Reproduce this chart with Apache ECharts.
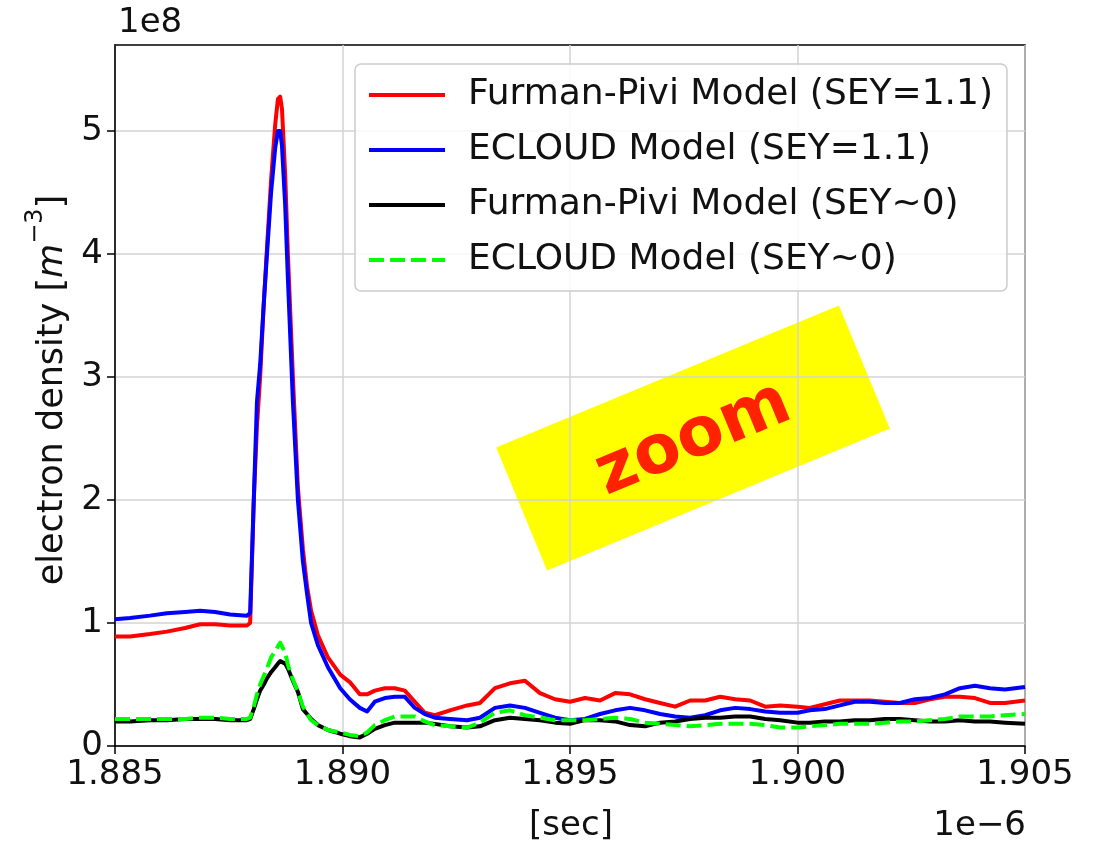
<!DOCTYPE html>
<html>
<head>
<meta charset="utf-8">
<script src="https://cdn.jsdelivr.net/npm/echarts@6/dist/echarts.min.js"></script>
<style>
html,body{margin:0;padding:0;background:#fff;}
#chart{width:1093px;height:845px;}
</style>
</head>
<body>
<div id="chart"></div>
<script>
// time in ns (axis shows value/1000 in units of 1e-6 s)
const timeNs = [
 1885.00,1885.33,1885.77,1886.14,1886.54,1886.87,1887.20,1887.53,1887.90,
 1887.97,1888.05,1888.12,1888.19,1888.27,1888.34,1888.43,1888.52,1888.58,1888.63,
 1888.67,1888.74,1888.80,1888.91,1889.02,1889.13,1889.22,1889.31,1889.46,1889.68,
 1889.95,1890.16,1890.38,1890.54,1890.71,1890.93,1891.15,1891.37,1891.59,1891.81,
 1892.03,1892.36,1892.74,1893.02,1893.35,1893.68,1894.01,1894.34,1894.67,1895.00,
 1895.33,1895.66,1895.99,1896.32,1896.65,1896.98,1897.31,1897.64,1897.97,1898.30,
 1898.63,1898.96,1899.29,1899.62,1900.00,1900.27,1900.60,1900.93,1901.26,1901.59,
 1901.92,1902.25,1902.58,1902.91,1903.24,1903.57,1903.90,1904.23,1904.56,1905.00
];
// electron density, units of 1e8 m^-3
const furmanPivi11 = [
 0.89,0.89,0.91,0.93,0.96,0.99,0.99,0.98,0.98,
 1.00,2.0,2.6,3.0,3.6,4.05,4.6,5.05,5.26,5.28,
 5.18,4.65,4.0,3.0,2.1,1.6,1.3,1.1,0.9,0.72,
 0.58,0.52,0.42,0.42,0.45,0.47,0.47,0.45,0.36,0.27,
 0.25,0.29,0.33,0.35,0.47,0.51,0.53,0.43,0.38,0.36,
 0.39,0.37,0.43,0.42,0.38,0.35,0.32,0.37,0.37,0.40,
 0.38,0.37,0.32,0.33,0.32,0.31,0.34,0.37,0.37,0.37,
 0.36,0.35,0.35,0.38,0.40,0.40,0.39,0.35,0.35,0.37
];
const ecloud11 = [
 1.03,1.04,1.06,1.08,1.09,1.10,1.09,1.07,1.06,
 1.08,2.0,2.8,3.1,3.6,4.0,4.5,4.86,5.0,5.0,
 4.88,4.4,3.8,2.8,2.0,1.5,1.24,1.0,0.82,0.64,
 0.47,0.38,0.31,0.28,0.36,0.39,0.40,0.40,0.31,0.26,
 0.23,0.22,0.21,0.23,0.31,0.33,0.31,0.27,0.23,0.21,
 0.22,0.26,0.29,0.31,0.29,0.26,0.24,0.23,0.25,0.29,
 0.31,0.30,0.28,0.27,0.27,0.29,0.30,0.33,0.36,0.36,
 0.35,0.35,0.38,0.39,0.42,0.47,0.49,0.47,0.46,0.48
];
const furmanPivi0 = [
 0.20,0.20,0.21,0.21,0.22,0.22,0.22,0.21,0.21,
 0.22,0.30,0.38,0.45,0.50,0.55,0.60,0.64,0.67,0.69,
 0.70,0.67,0.63,0.53,0.44,0.30,0.26,0.22,0.17,0.13,
 0.10,0.08,0.07,0.10,0.14,0.17,0.19,0.19,0.19,0.19,
 0.18,0.16,0.15,0.16,0.21,0.23,0.22,0.21,0.19,0.18,
 0.21,0.21,0.20,0.17,0.16,0.19,0.20,0.22,0.23,0.23,
 0.24,0.24,0.22,0.21,0.19,0.19,0.20,0.20,0.21,0.21,
 0.22,0.22,0.21,0.20,0.20,0.21,0.20,0.20,0.19,0.18
];
const ecloud0 = [
 0.22,0.22,0.22,0.22,0.22,0.23,0.23,0.22,0.22,
 0.23,0.32,0.42,0.50,0.57,0.63,0.72,0.77,0.81,0.84,
 0.83,0.76,0.66,0.54,0.44,0.32,0.26,0.21,0.17,0.13,
 0.11,0.09,0.08,0.11,0.17,0.21,0.24,0.24,0.24,0.20,
 0.17,0.16,0.15,0.19,0.27,0.29,0.25,0.23,0.21,0.21,
 0.21,0.22,0.23,0.22,0.19,0.18,0.17,0.16,0.17,0.18,
 0.18,0.18,0.17,0.15,0.15,0.16,0.17,0.18,0.18,0.18,
 0.19,0.20,0.20,0.21,0.22,0.24,0.24,0.24,0.25,0.26
];
const seriesNames = [
 'Furman-Pivi Model (SEY=1.1)',
 'ECLOUD Model (SEY=1.1)',
 'Furman-Pivi Model (SEY~0)',
 'ECLOUD Model (SEY~0)'
];
const yTicks = [0,1,2,3,4,5];

const FONT = 'DejaVu Sans';
const pair = arr => timeNs.map((t,i) => [t, arr[i]]);

const chart = echarts.init(document.getElementById('chart'), null, {renderer:'canvas'});
const mk = (name, data, color, type) => ({
  name, type:'line', data: pair(data), symbol:'none', smooth:false,
  lineStyle:{color, width:4, type: type || 'solid', cap:'butt', join:'round'},
  itemStyle:{color}, emphasis:{disabled:true}, silent:true
});

chart.setOption({
  animation:false,
  backgroundColor:'#ffffff',
  grid:{left:115, top:45, right:68, bottom:99, show:true, borderColor:'#000', borderWidth:1.5, backgroundColor:'transparent'},
  xAxis:{
    type:'value', min:1885, max:1905, interval:5,
    axisLine:{show:true, lineStyle:{color:'#000', width:1.5}},
    axisTick:{show:true, length:8, lineStyle:{color:'#000', width:1.5}},
    axisLabel:{fontFamily:FONT, fontSize:34, color:'#111', margin:12,
      formatter: v => (v/1000).toFixed(3)},
    splitLine:{show:true, lineStyle:{color:'#d3d3d3', width:1.5}}
  },
  yAxis:{
    type:'value', min:0, max:5.7, interval:1,
    axisLine:{show:true, lineStyle:{color:'#000', width:1.5}},
    axisTick:{show:true, length:8, lineStyle:{color:'#000', width:1.5}, customValues:yTicks},
    axisLabel:{fontFamily:FONT, fontSize:34, color:'#111', margin:12, customValues:yTicks,
      formatter: v => (Math.abs(v-Math.round(v))<1e-9 ? String(Math.round(v)) : '')},
    splitLine:{show:true, lineStyle:{color:'#d3d3d3', width:1.5}}
  },
  legend:{
    show:true, orient:'vertical', left:355, top:64,
    padding:[11,14,11,12], itemGap:15, itemWidth:76, itemHeight:14,
    backgroundColor:'rgba(255,255,255,0.85)', borderColor:'#cccccc', borderWidth:1.5, borderRadius:6,
    textStyle:{fontFamily:FONT, fontSize:36, color:'#111', lineHeight:40, padding:[0,0,0,18]},
    itemStyle:{opacity:0, borderWidth:0},
    lineStyle:{width:4},
    selectedMode:false,
    data: seriesNames
  },
  series:[
    mk(seriesNames[0], furmanPivi11, '#ff0000'),
    mk(seriesNames[1], ecloud11, '#0000ff'),
    mk(seriesNames[2], furmanPivi0, '#000000'),
    mk(seriesNames[3], ecloud0, '#00ff00', [15,6])
  ],
  graphic:[
    {type:'text', x:118, y:23, silent:true,
      style:{text:'1e8', fontFamily:FONT, fontSize:34, fill:'#111', align:'left', verticalAlign:'middle'}},
    {type:'text', x:1026, y:826, silent:true,
      style:{text:'1e\u22126', fontFamily:FONT, fontSize:34, fill:'#111', align:'right', verticalAlign:'middle'}},
    {type:'text', x:571, y:826, silent:true,
      style:{text:'[sec]', fontFamily:FONT, fontSize:34, fill:'#111', align:'center', verticalAlign:'middle'}},
    {type:'text', x:47, y:390, rotation:Math.PI/2, silent:true,
      style:{
        text:'{a|electron density [}{i|m}{s|\u22123}{a|]}',
        align:'center', verticalAlign:'middle',
        rich:{
          a:{fontFamily:FONT, fontSize:35, fill:'#111', lineHeight:46, verticalAlign:'bottom'},
          i:{fontFamily:FONT, fontSize:35, fontStyle:'italic', fill:'#111', lineHeight:46, verticalAlign:'bottom'},
          s:{fontFamily:FONT, fontSize:24, fill:'#111', lineHeight:46, verticalAlign:'top'}
        }
      }},
    {type:'group', x:693, y:438, rotation:22.5*Math.PI/180, silent:true,
      children:[
        {type:'rect', shape:{x:-185.5, y:-66.5, width:371, height:133}, style:{fill:'#ffff00'}},
        {type:'text', x:0, y:2, style:{text:'zoom', fontFamily:FONT, fontWeight:'bold', fontSize:68,
          fill:'#ff2200', align:'center', verticalAlign:'middle'}}
      ]}
  ]
});
</script>
</body>
</html>
